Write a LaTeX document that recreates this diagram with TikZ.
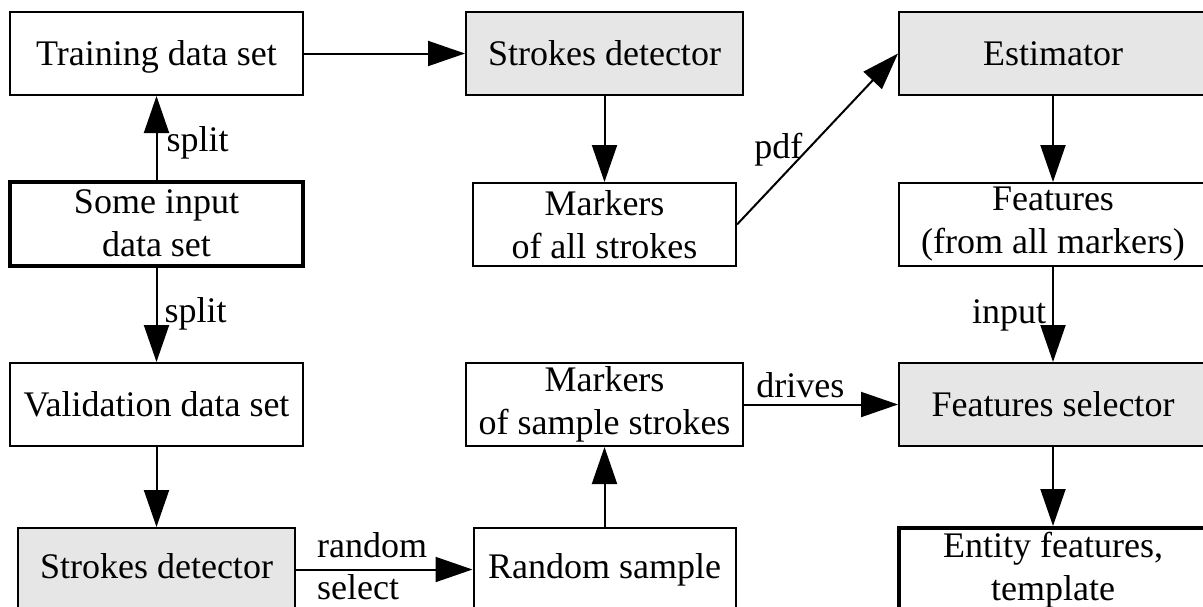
\documentclass[tikz,border=0pt]{standalone}
\usepackage{fontspec}
\setmainfont{Liberation Serif}
\usetikzlibrary{arrows.meta}
\definecolor{boxgray}{HTML}{E6E6E6}
\tikzset{
  box/.style={draw, line width=2pt, minimum height=83pt, inner sep=0pt, align=center, fill=white},
  graybox/.style={box, fill=boxgray},
  thickbox/.style={box, line width=4pt},
  oneline/.style={text height=25pt, text depth=1pt},
  lowline/.style={text height=25pt, text depth=8pt},
  arr/.style={line width=2pt, -{Triangle[length=37pt,width=25pt]}},
  lbl/.style={inner sep=0pt, outer sep=0pt},
}
\begin{document}
\begin{tikzpicture}[x=1pt, y=-1pt, font=\fontsize{36}{43}\selectfont]
\useasboundingbox (0,0) rectangle (1203,606);
% left column
\node[box, oneline, minimum width=293pt] (train) at (156.5,53.5) {Training data set};
\node[thickbox, minimum width=293pt, minimum height=84pt] (input) at (156.5,223.5) {Some input\\data set};
\node[box, oneline, minimum width=293pt] (valid) at (156.5,404.5) {Validation data set};
\node[graybox, lowline, minimum width=277pt] (sd2) at (156.5,569.5) {Strokes detector};
% middle column
\node[graybox, oneline, minimum width=277pt] (sd1) at (604.5,53.5) {Strokes detector};
\node[box, minimum width=263pt] (mall) at (604.5,224.5) {Markers\\of all strokes};
\node[box, minimum width=277pt] (msample) at (604.5,404.5) {Markers\\of sample strokes};
\node[box, lowline, minimum width=262pt] (rsample) at (604.5,569.5) {Random sample};
% right column
\node[graybox, oneline, minimum width=308pt] (est) at (1053,53.5) {Estimator};
\node[box, minimum width=308pt] (feat) at (1053,224.5) {Features\\(from all markers)};
\node[graybox, oneline, minimum width=308pt] (fsel) at (1053,404.5) {Features selector};
\node[thickbox, minimum width=308pt, minimum height=84pt] (entity) at (1053,570) {Entity features,\\template};
% connectors
\draw[arr] (train) -- (sd1);
\draw[arr] (input) -- (train) node[lbl, pos=0.34, anchor=base west, xshift=10pt] {split};
\draw[arr] (input) -- (valid) node[lbl, pos=0.58, anchor=base west, xshift=8pt] {split};
\draw[arr] (valid) -- (sd2);
\draw[arr] (sd2) -- (rsample)
  node[lbl, pos=0.12, anchor=base west, yshift=12pt] {random}
  node[lbl, pos=0.12, anchor=base west, yshift=-30pt] {select};
\draw[arr] (rsample) -- (msample);
\draw[arr] (sd1) -- (mall);
\draw[arr] (mall.east) -- (est.west) node[lbl, pos=0.387, anchor=base east, xshift=3pt] {pdf};
\draw[arr] (est) -- (feat);
\draw[arr] (feat) -- (fsel) node[lbl, pos=0.59, anchor=base east, xshift=-7pt] {input};
\draw[arr] (msample) -- (fsel) node[lbl, pos=0.08, anchor=base west, yshift=7pt] {drives};
\draw[arr] (fsel) -- (entity);
\end{tikzpicture}
\end{document}
